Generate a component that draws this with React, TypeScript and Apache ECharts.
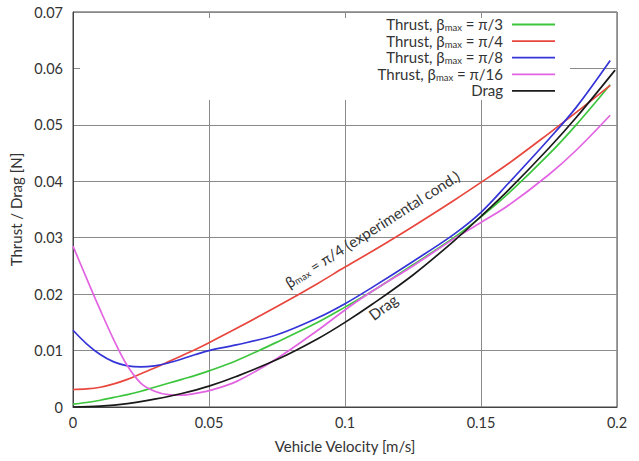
import React, { useEffect, useRef } from "react";
import * as echarts from "echarts";

// Velocity grid [m/s] shared by the thrust curves
const thrustVelocity = [0, 0.005, 0.01, 0.015, 0.02, 0.025, 0.03, 0.035, 0.04, 0.045, 0.05, 0.06, 0.075, 0.09, 0.1, 0.11, 0.125, 0.14, 0.15, 0.16, 0.175, 0.185, 0.1975];
// Thrust [N]
const thrustPi3 = [0.0005, 0.0008, 0.0012, 0.0017, 0.0022, 0.0028, 0.0035, 0.0042, 0.0049, 0.0056, 0.0064, 0.0082, 0.0115, 0.015, 0.0177, 0.0205, 0.0252, 0.03, 0.0337, 0.0378, 0.0448, 0.05, 0.0571];
const thrustPi4 = [0.0031, 0.0032, 0.0035, 0.0041, 0.0049, 0.0059, 0.0069, 0.008, 0.0091, 0.0102, 0.0114, 0.0139, 0.0178, 0.0219, 0.0248, 0.0276, 0.032, 0.0366, 0.0398, 0.0431, 0.0485, 0.0522, 0.057];
const thrustPi8 = [0.0136, 0.0112, 0.0093, 0.008, 0.0073, 0.0071, 0.0073, 0.0078, 0.0085, 0.0093, 0.01, 0.011, 0.0128, 0.0158, 0.0183, 0.0212, 0.0258, 0.0306, 0.0345, 0.0396, 0.0475, 0.0531, 0.0614];
const thrustPi16 = [0.0285, 0.0228, 0.0172, 0.0119, 0.0073, 0.0042, 0.0028, 0.0022, 0.0021, 0.0024, 0.0029, 0.0045, 0.0086, 0.0136, 0.0172, 0.0205, 0.025, 0.0298, 0.0327, 0.0357, 0.0412, 0.0455, 0.0517];
// Drag [N]
const dragVelocity = [0, 0.01, 0.02, 0.03, 0.04, 0.05, 0.06, 0.075, 0.09, 0.1, 0.11, 0.125, 0.14, 0.15, 0.16, 0.175, 0.185, 0.1993];
const drag = [0, 0.00015, 0.0006, 0.0014, 0.0024, 0.0037, 0.0054, 0.0084, 0.0121, 0.015, 0.0182, 0.0234, 0.0294, 0.0338, 0.0384, 0.0459, 0.0513, 0.0597];

const seriesNames = ["Thrust, {b|β}{s|max} = π/3", "Thrust, {b|β}{s|max} = π/4", "Thrust, {b|β}{s|max} = π/8", "Thrust, {b|β}{s|max} = π/16", "Drag"];
const seriesColors = ["#3dc63d", "#e8473e", "#3434d8", "#e264e2", "#1a1a1a"];

const xTicks = { min: 0, max: 0.2, interval: 0.05 };
const yTicks = { min: 0, max: 0.07, interval: 0.01 };

const FONT = "Lato";

export default function App() {
  const ref = useRef<HTMLDivElement>(null);
  useEffect(() => {
    if (!ref.current) return;
    const chart = echarts.init(ref.current, undefined, { renderer: "svg" });
    const seriesData = [
      thrustVelocity.map((v, i) => [v, thrustPi3[i]]),
      thrustVelocity.map((v, i) => [v, thrustPi4[i]]),
      thrustVelocity.map((v, i) => [v, thrustPi8[i]]),
      thrustVelocity.map((v, i) => [v, thrustPi16[i]]),
      dragVelocity.map((v, i) => [v, drag[i]]),
    ];
    const rich = {
      b: { fontFamily: FONT, fontSize: 15, color: "#333", lineHeight: 17 },
      s: { fontFamily: FONT, fontSize: 9.5, color: "#333", verticalAlign: "bottom", lineHeight: 8 },
    };
    const legendGraphics: any[] = [];
    seriesNames.forEach((name, i) => {
      const y = 24 + 16.6 * i;
      legendGraphics.push({
        type: "text",
        x: 503,
        y,
        z: 10,
        style: {
          text: name,
          align: "right",
          verticalAlign: "middle",
          fontFamily: FONT,
          fontSize: 15,
          fill: "#333",
          rich,
        },
      });
      legendGraphics.push({
        type: "line",
        z: 10,
        shape: { x1: 512, y1: y + 0.5, x2: 555, y2: y + 0.5 },
        style: { stroke: seriesColors[i], lineWidth: 1.8 },
      });
    });
    chart.setOption({
      animation: false,
      backgroundColor: "#fff",
      grid: { left: 73, right: 22, top: 12, bottom: 54, show: true, borderColor: "#444", borderWidth: 1, backgroundColor: "transparent" },
      xAxis: {
        type: "value",
        ...xTicks,
        name: "Vehicle Velocity [m/s]",
        nameLocation: "middle",
        nameGap: 31,
        nameTextStyle: { fontFamily: FONT, fontSize: 15, color: "#333" },
        axisLine: { show: true, lineStyle: { color: "#444" } },
        axisTick: { show: false },
        axisLabel: { fontFamily: FONT, fontSize: 14.5, color: "#333", margin: 8 },
        splitLine: { show: true, lineStyle: { color: "#8a8a8a", width: 1 } },
      },
      yAxis: {
        type: "value",
        ...yTicks,
        name: "Thrust / Drag [N]",
        nameLocation: "middle",
        nameGap: 46,
        nameTextStyle: { fontFamily: FONT, fontSize: 15, color: "#333" },
        axisLine: { show: true, lineStyle: { color: "#444" } },
        axisTick: { show: false },
        axisLabel: { fontFamily: FONT, fontSize: 14.5, color: "#333", margin: 10 },
        splitLine: { show: true, lineStyle: { color: "#8a8a8a", width: 1 } },
      },
      series: seriesData.map((data, i) => ({
        type: "line",
        name: seriesNames[i],
        data,
        smooth: 0.35,
        symbol: "none",
        z: i === 4 ? 3 : 2,
        lineStyle: { color: seriesColors[i], width: 1.7 },
      })),
      graphic: [
        {
          type: "rect",
          z: 1,
          shape: { x: 80, y: 18, width: 490, height: 82 },
          style: { fill: "#fff" },
        },
        ...legendGraphics,
        {
          type: "text",
          x: 372,
          y: 229,
          rotation: (32.5 * Math.PI) / 180,
          z: 10,
          style: {
            text: "{b|β}{s|max} = π/4 (experimental cond.)",
            align: "center",
            verticalAlign: "middle",
            fontFamily: FONT,
            fontSize: 15,
            fill: "#333",
            rich,
          },
        },
        {
          type: "text",
          x: 383,
          y: 307,
          rotation: (37 * Math.PI) / 180,
          z: 10,
          style: {
            text: "Drag",
            align: "center",
            verticalAlign: "middle",
            fontFamily: FONT,
            fontSize: 15,
            fill: "#333",
          },
        },
      ],
    });
    return () => chart.dispose();
  }, []);
  return <div ref={ref} style={{ position: "absolute", left: 0, top: 0, width: 639, height: 461 }} />;
}
